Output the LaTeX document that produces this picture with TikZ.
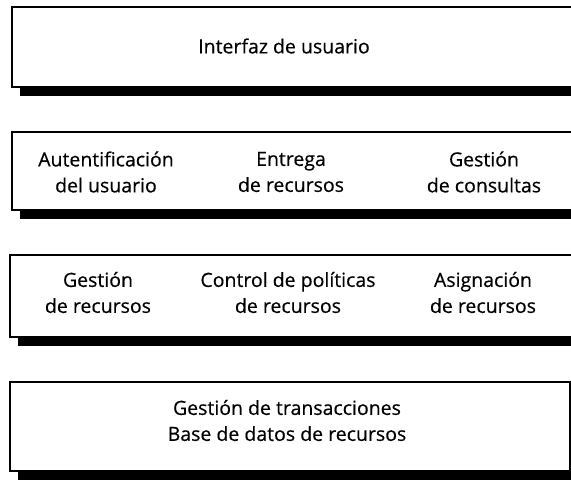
\documentclass[tikz,border=0pt]{standalone}
\usepackage{fontspec}
\setmainfont{Open Sans}[FakeBold=0.4]
\usetikzlibrary{shadows}
\tikzset{
  layerbox/.style={draw=black, line width=2.6pt, fill=white, inner sep=0pt,
    drop shadow={shadow xshift=8pt, shadow yshift=-9pt, fill=black, opacity=1}},
  lbl/.style={align=center, font=\fontsize{19.5}{26}\selectfont, inner sep=0pt}
}
\begin{document}
\begin{tikzpicture}[x=1pt, y=-1pt]
\useasboundingbox (0,0) rectangle (571,481);
\node[layerbox, minimum width=566pt, minimum height=80pt] (b1) at (295,47) {};
\node[layerbox, minimum width=566pt, minimum height=78pt] (b2) at (295,171) {};
\node[layerbox, minimum width=568pt, minimum height=82pt] (b3) at (294,296) {};
\node[layerbox, minimum width=560pt, minimum height=89pt] (b4) at (290,426.5) {};
\node[lbl] (t1) at (284,46) {Interfaz de usuario};
\node[lbl] (t21) at (106,172) {Autentificación\\del usuario};
\node[lbl] (t22) at (291,172) {Entrega\\de recursos};
\node[lbl] (t23) at (484,172) {Gestión\\de consultas};
\node[lbl] (t31) at (98,292.5) {Gestión\\de recursos};
\node[lbl] (t32) at (288,292.5) {Control de políticas\\de recursos};
\node[lbl] (t33) at (483,292.5) {Asignación\\de recursos};
\node[lbl] (t4) at (287,420.5) {Gestión de transacciones\\Base de datos de recursos};
\end{tikzpicture}
\end{document}
